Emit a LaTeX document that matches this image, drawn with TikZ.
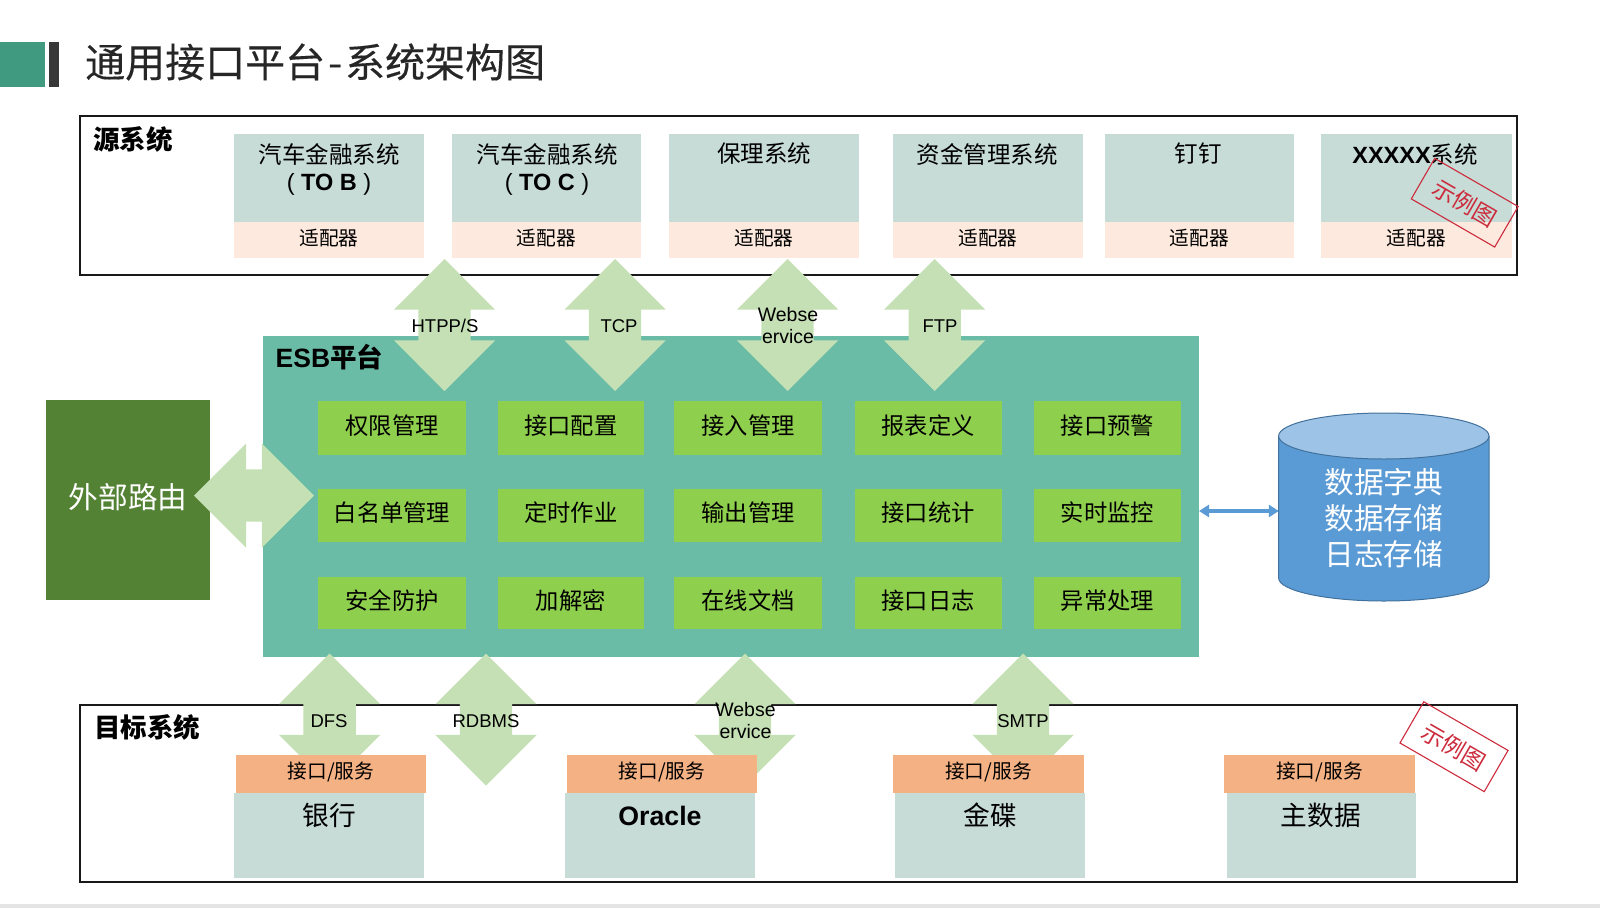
\documentclass[tikz,border=0pt]{standalone}
\usepackage{fontspec}
\setmainfont{Liberation Sans}
\newfontfamily\cjk{Noto Sans CJK SC}
\newfontfamily\cjktitle[FakeBold=0.25]{Noto Sans CJK SC}
\usetikzlibrary{shapes.arrows,arrows.meta}
\definecolor{slate}{HTML}{C7DBD7}
\definecolor{peach}{HTML}{FDE9DD}
\definecolor{orangebar}{HTML}{F4B183}
\definecolor{esbteal}{HTML}{6ABCA6}
\definecolor{leaf}{HTML}{8FCF4E}
\definecolor{forest}{HTML}{548235}
\definecolor{arrowgreen}{HTML}{C5E0B4}
\definecolor{dbblue}{HTML}{5B9BD5}
\definecolor{dbtop}{HTML}{9DC3E6}
\definecolor{dbedge}{HTML}{41719C}
\definecolor{stampred}{HTML}{CC2B3C}
\definecolor{titlegreen}{HTML}{3F9A7F}
\newcommand{\fsz}[1]{\fontsize{#1}{#1}\selectfont}
\newcommand{\rbox}[7]{\node[#1, minimum width={(#5-#3)*1pt}, minimum height={(#6-#4)*1pt}] (#2) at ({(#3+#5)/2},{(#4+#6)/2}) {#7};}
\tikzset{
  plain/.style={inner sep=0pt, outer sep=0pt, rectangle},
  frame/.style={plain, draw=black!90, line width=1.2pt},
  sysbox/.style={plain, fill=slate},
  adapter/.style={plain, fill=peach, text=black, text depth=6.4pt, font=\cjk\fsz{19.7}},
  iface/.style={plain, fill=orangebar, text=black, text depth=7.4pt, font=\cjk\fsz{19.7}},
  func/.style={plain, fill=leaf, text=black, text depth=7pt, font=\cjk\fsz{23.3}},
  syslabel/.style={inner sep=0pt, align=center, font=\cjk\fsz{23.5}},
  biglabel/.style={inner sep=0pt, font=\cjk\fsz{26.7}},
  heading/.style={inner sep=0pt, font=\cjk\bfseries\fsz{26.5}},
  vdouble/.style={double arrow, shape border rotate=90, fill=arrowgreen, inner sep=26pt, outer sep=0pt,
    minimum height=132pt, minimum width=101pt, double arrow head extend=24.5pt, double arrow tip angle=90},
  hdouble/.style={double arrow, fill=arrowgreen, inner sep=26pt, outer sep=0pt,
    minimum height=120pt, minimum width=104pt, double arrow head extend=26pt, double arrow tip angle=90},
  proto/.style={inner sep=0pt, align=center, font=\fontsize{18.5}{22}\selectfont, text=black},
  protowide/.style={proto, font=\fontsize{19.5}{22}\selectfont},
  stamp/.style={plain, draw=stampred, line width=1.1pt, text=stampred, font=\cjk\fsz{23}},
}
\begin{document}
\begin{tikzpicture}[x=1pt,y=-1pt]
\useasboundingbox (0,0) rectangle (1600,908);
% footer strip and title
\fill[black!10] (0,904) rectangle (1600,908);
\rbox{plain, fill=titlegreen}{mark1}{0}{41.5}{44.5}{87}{}
\rbox{plain, fill=black!78}{mark2}{49}{41.5}{59}{87}{}
\node[inner sep=0pt, anchor=west, font=\cjktitle\fsz{40}, text=black!85] (title) at (85,62) {通用接口平台\kern3pt-\kern3pt系统架构图};
% source frame
\rbox{frame}{srcframe}{80}{116}{1517}{275}{}
\node[heading] (srchead) at (133,139) {源系统};
\rbox{sysbox}{s1}{234}{134}{424}{222}{}
\rbox{sysbox}{s2}{452}{134}{641}{222}{}
\rbox{sysbox}{s3}{669}{134}{859}{222}{}
\rbox{sysbox}{s4}{893}{134}{1083}{222}{}
\rbox{sysbox}{s5}{1105}{134}{1294}{222}{}
\rbox{sysbox}{s6}{1321}{134}{1512}{222}{}
\rbox{adapter}{a1}{234}{222}{424}{258}{适配器}
\rbox{adapter}{a2}{452}{222}{641}{258}{适配器}
\rbox{adapter}{a3}{669}{222}{859}{258}{适配器}
\rbox{adapter}{a4}{893}{222}{1083}{258}{适配器}
\rbox{adapter}{a5}{1105}{222}{1294}{258}{适配器}
\rbox{adapter}{a6}{1321}{222}{1512}{258}{适配器}
\node[syslabel] (t1) at (329,154) {汽车金融系统};
\node[syslabel, font=\fsz{23.5}] (t1b) at (329,184.5) {( \textbf{TO B} )};
\node[syslabel] (t2) at (547,154) {汽车金融系统};
\node[syslabel, font=\fsz{23.5}] (t2b) at (547,184.5) {( \textbf{TO C} )};
\node[syslabel] (t3) at (764,154) {保理系统};
\node[syslabel] (t4) at (987,154) {资金管理系统};
\node[syslabel] (t5) at (1198,154) {钉钉};
\node[syslabel] (t6) at (1415,154) {{\fontspec{Liberation Sans}\bfseries XXXXX}系统};
% ESB platform
\rbox{plain, fill=esbteal}{esb}{263}{336}{1199}{657}{}
\node[inner sep=0pt, anchor=west, font=\cjk\bfseries\fsz{26.5}] (esbhead) at (275.5,357) {{\fontspec{Liberation Sans}\bfseries ESB}平台};
\rbox{func}{g11}{318}{401}{466}{455}{权限管理}
\rbox{func}{g12}{497.5}{401}{644}{455}{接口配置}
\rbox{func}{g13}{674}{401}{822}{455}{接入管理}
\rbox{func}{g14}{855}{401}{1001.5}{455}{报表定义}
\rbox{func}{g15}{1034}{401}{1181}{455}{接口预警}
\rbox{func}{g21}{318}{489}{466}{542}{白名单管理}
\rbox{func}{g22}{497.5}{489}{644}{542}{定时作业}
\rbox{func}{g23}{674}{489}{822}{542}{输出管理}
\rbox{func}{g24}{855}{489}{1001.5}{542}{接口统计}
\rbox{func}{g25}{1034}{489}{1181}{542}{实时监控}
\rbox{func}{g31}{318}{577}{466}{629}{安全防护}
\rbox{func}{g32}{497.5}{577}{644}{629}{加解密}
\rbox{func}{g33}{674}{577}{822}{629}{在线文档}
\rbox{func}{g34}{855}{577}{1001.5}{629}{接口日志}
\rbox{func}{g35}{1034}{577}{1181}{629}{异常处理}
% external routing
\rbox{plain, fill=forest, text=white, text depth=7.6pt, font=\cjk\fsz{29.7}}{ext}{46}{400}{210}{600}{外部路由}
\node[hdouble] (extarrow) at (254,495.5) {};
% target frame
\rbox{frame}{dstframe}{80}{705}{1517}{882}{}
\node[heading] (dsthead) at (147,727) {目标系统};
% block arrows
\node[vdouble] (up1) at (444.5,325) {};
\node[vdouble] (up2) at (615,325) {};
\node[vdouble] (up3) at (787.5,325) {};
\node[vdouble] (up4) at (934.7,325) {};
\node[vdouble] (dn1) at (329.6,719.5) {};
\node[vdouble] (dn2) at (486,719.5) {};
\node[vdouble] (dn3) at (745,719.5) {};
\node[vdouble] (dn4) at (1023,719.5) {};
\node[proto] (p1) at (445,326) {HTPP/S};
\node[proto] (p2) at (619,326) {TCP};
\node[protowide] (p3) at (788,326) {Webse\\ervice};
\node[proto] (p4) at (940,326) {FTP};
\node[proto] (p5) at (329,721) {DFS};
\node[proto] (p6) at (486,721) {RDBMS};
\node[protowide] (p7) at (745.5,721) {Webse\\ervice};
\node[proto] (p8) at (1023,721) {SMTP};
% target systems
\rbox{sysbox}{d1}{234}{793}{424}{878}{}
\rbox{sysbox}{d2}{565}{793}{755}{878}{}
\rbox{sysbox}{d3}{895}{793}{1085}{878}{}
\rbox{sysbox}{d4}{1226.5}{793}{1416}{878}{}
\rbox{iface}{i1}{236}{755}{426}{793}{接口/服务}
\rbox{iface}{i2}{567}{755}{757}{793}{接口/服务}
\rbox{iface}{i3}{893}{755}{1084}{793}{接口/服务}
\rbox{iface}{i4}{1224}{755}{1415}{793}{接口/服务}
\node[biglabel] (n1) at (329,815) {银行};
\node[inner sep=0pt, font=\bfseries\fsz{26.7}] (n2) at (660,816) {Oracle};
\node[biglabel] (n3) at (990,815) {金碟};
\node[biglabel] (n4) at (1321,815) {主数据};
% database
\fill[dbblue] (1278.6,436) -- (1278.6,578) arc[start angle=180,end angle=360,x radius=105.2,y radius=-23] -- (1489,436) -- cycle;
\draw[dbedge, line width=1pt] (1278.6,436) -- (1278.6,578) arc[start angle=180,end angle=360,x radius=105.2,y radius=-23] -- (1489,436);
\draw[dbedge, line width=1pt, fill=dbtop] (1383.8,436) ellipse[x radius=105.2, y radius=23];
\node[plain, minimum width=210pt, minimum height=188pt, align=center, text=white, font=\cjk\fontsize{29.7}{36}\selectfont] (db) at (1383.8,518) {数据字典\\数据存储\\日志存储};
\coordinate (dblink) at (1240,511);
\draw[{Triangle[length=10pt,width=12pt]}-{Triangle[length=10pt,width=12pt]}, draw=dbblue, fill=dbblue, line width=3.5pt] (esb.east |- dblink) -- (db.west |- dblink);
% stamps
\node[stamp, rotate=-30, minimum width=96.3pt, minimum height=46.8pt] (stamp1) at (1464.7,202.7) {示例图};
\node[stamp, rotate=-30, minimum width=97.3pt, minimum height=47.6pt] (stamp2) at (1454,746.7) {示例图};
\end{tikzpicture}
\end{document}
